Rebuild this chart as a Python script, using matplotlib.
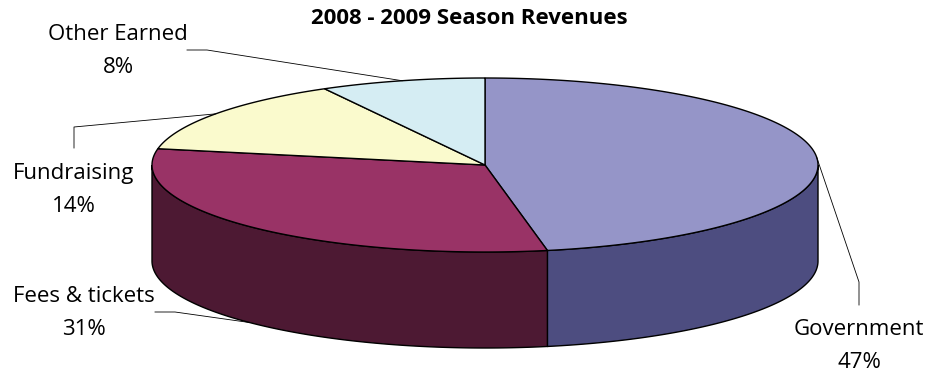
import numpy as np
import matplotlib.pyplot as plt
from matplotlib.patches import Polygon

plt.rcParams['font.family'] = ['Open Sans', 'DejaVu Sans']

# data
labels = ["Government", "Fees & tickets", "Fundraising", "Other Earned"]
shares = [47, 31, 14, 8]
top_colors = ["#9595C8", "#993366", "#FAFACD", "#D5EDF3"]
side_colors = ["#4D4D80", "#4D1933", "#A0A080", "#8AA0A6"]

# label placement (pixels): text center, elbow, end of leader
label_pos = [(859, 346), (84, 313), (74, 190), (118, 51)]
elbows = [[(859, 282), (859, 305)],
          [(175, 312), (155, 312)],
          [(74, 127), (74, 148)],
          [(207, 50), (187, 50)]]

# pie geometry in pixels
cx, cy, rx, ry, depth = 485, 165, 333, 87, 96

fig = plt.figure(figsize=(9.29, 3.73), dpi=100)
ax = fig.add_axes([0, 0, 1, 1])
ax.set_xlim(0, 929)
ax.set_ylim(373, 0)
ax.axis("off")


def arc(t0, t1, dz=0, n=200):
    t = np.radians(np.linspace(t0, t1, n))
    return np.column_stack([cx + rx * np.cos(t), cy - ry * np.sin(t) + dz])


fracs = np.array(shares) / sum(shares)
starts = 90 - 360 * np.concatenate([[0], np.cumsum(fracs)[:-1]])
ends = starts - 360 * fracs

for i in range(len(shares)):
    s, e = starts[i], ends[i]
    # side wall, only the front half is visible
    lo, hi = max(e, -180), min(s, 0)
    if lo < hi:
        top = arc(lo, hi)
        bottom = arc(hi, lo, depth)
        ax.add_patch(Polygon(np.vstack([top, bottom]), closed=True,
                             facecolor=side_colors[i], edgecolor="black",
                             lw=1.0, zorder=1))
    # top face
    pts = np.vstack([[cx, cy], arc(s, e)])
    ax.add_patch(Polygon(pts, closed=True, facecolor=top_colors[i],
                         edgecolor="black", lw=1.0, zorder=2))

    # leader line from middle of slice
    mid = (s + e) / 2
    dz = depth if np.sin(np.radians(mid)) < 0 else 0
    anchor = arc(mid, mid, dz, n=1)[0]
    path = np.array([anchor] + elbows[i])
    ax.plot(path[:, 0], path[:, 1], color="black", lw=0.6, zorder=3)

    lx, ly = label_pos[i]
    ax.text(lx, ly, f"{labels[i]}\n{shares[i]}%", ha="center", va="center",
            fontsize=16, linespacing=1.75, color="black")

ax.text(469, 19, "2008 - 2009 Season Revenues", ha="center", va="center",
        fontsize=16, fontweight="bold")

fig.savefig("out.png", dpi=100)
